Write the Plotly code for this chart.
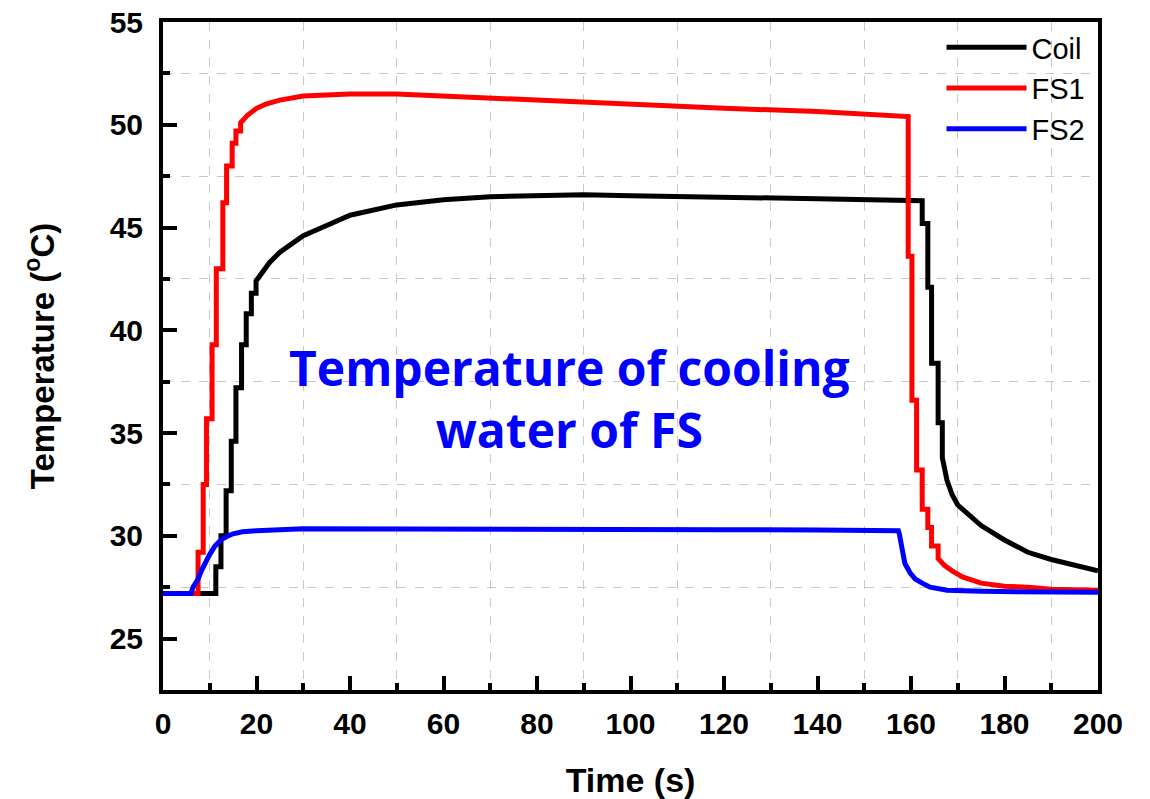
import plotly.graph_objects as go

# ---- data ----
coil_t = [0, 11.3, 11.3, 12.4, 12.4, 13.5, 13.5, 14.6, 14.6, 15.6, 15.6, 16.8, 16.8, 17.8, 17.8,
          18.9, 18.9, 19.9, 19.9, 21.4, 22.8, 25, 30, 35, 40, 50, 60, 70, 80, 90, 100, 120, 140,
          162.4, 162.4, 163.6, 163.6, 164.4, 164.4, 165.8, 165.8, 166.7, 166.7, 167.7, 168.8,
          170, 172, 175, 180, 185, 190, 195, 200]
coil_T = [27.2, 27.2, 28.5, 28.5, 30.0, 30.0, 32.2, 32.2, 34.6, 34.6, 37.2, 37.2, 39.3, 39.3, 40.8,
          40.8, 41.8, 41.8, 42.4, 42.9, 43.3, 43.8, 44.6, 45.1, 45.6, 46.1, 46.35, 46.5, 46.55, 46.6,
          46.55, 46.5, 46.4, 46.3, 45.2, 45.2, 42.1, 42.1, 38.4, 38.4, 35.5, 35.5, 33.8, 32.7, 32.0,
          31.5, 31.1, 30.5, 29.8, 29.2, 28.85, 28.55, 28.3]

fs1_t = [0, 7.5, 7.5, 8.6, 8.6, 9.3, 9.3, 10.5, 10.5, 11.4, 11.4, 12.8, 12.8, 13.6, 13.6, 14.8,
         14.8, 15.6, 15.6, 16.6, 16.6, 18, 20, 22, 25, 30, 35, 40, 50, 60, 70, 80, 90, 100, 120,
         140, 158.5, 159.4, 159.4, 160.2, 160.2, 161.2, 161.2, 162.4, 162.4, 163.6, 163.6, 164.4,
         164.4, 165.8, 165.8, 167.2, 168.8, 171, 175, 180, 185, 190, 200]
fs1_T = [27.2, 27.2, 29.2, 29.2, 32.5, 32.5, 35.7, 35.7, 39.3, 39.3, 43.0, 43.0, 46.2, 46.2, 48.0,
         48.0, 49.1, 49.1, 49.7, 49.7, 50.1, 50.45, 50.8, 51.0, 51.2, 51.4, 51.45, 51.5, 51.5, 51.4,
         51.3, 51.15, 51.1, 51.0, 50.8, 50.65, 50.45, 50.4, 43.6, 43.6, 36.6, 36.6, 33.2, 33.2,
         31.3, 31.3, 30.4, 30.4, 29.5, 29.5, 28.9, 28.55, 28.3, 28.0, 27.7, 27.55, 27.5, 27.4, 27.35]

fs2_t = [0, 6.0, 6.4, 7.5, 8.2, 9.0, 10, 11.1, 12.4, 13.9, 15, 17, 20, 30, 40, 60, 80, 100, 120,
         140, 157.3, 157.5, 158.1, 158.7, 159.8, 160.9, 162.4, 164.1, 167.7, 175, 200]
fs2_T = [27.2, 27.2, 27.5, 27.9, 28.3, 28.7, 29.1, 29.5, 29.8, 30.0, 30.1, 30.2, 30.25, 30.35,
         30.35, 30.35, 30.3, 30.3, 30.3, 30.28, 30.25, 30.1, 29.2, 28.65, 28.2, 27.9, 27.7, 27.5,
         27.35, 27.3, 27.25]

series_names = ["Coil", "FS1", "FS2"]
series_colors = ["#000000", "#ff0000", "#0000ff"]

x_ticks = [0, 20, 40, 60, 80, 100, 120, 140, 160, 180, 200]
x_minor = [10, 30, 50, 70, 90, 110, 130, 150, 170, 190]
y_ticks = [25, 30, 35, 40, 45, 50, 55]
y_minor = [22.5, 27.5, 32.5, 37.5, 42.5, 47.5, 52.5]

FONT = "Arial, Liberation Sans"

fig = go.Figure()
for name, color, t, T in zip(series_names, series_colors,
                             [coil_t, fs1_t, fs2_t], [coil_T, fs1_T, fs2_T]):
    fig.add_trace(go.Scatter(x=t, y=T, mode="lines", name=name, legendgroup=name,
                             line=dict(color=color, width=5)))

axis_common = dict(
    showline=True, linecolor="black", linewidth=4, mirror=True,
    ticks="inside", ticklen=14, tickwidth=4, tickcolor="black",
    showgrid=False, zeroline=False, automargin=False,
    tickfont=dict(family=FONT, size=30, color="black", weight="bold"),
)
minor_common = dict(ticks="inside", ticklen=7, tickwidth=4, tickcolor="black",
                    showgrid=True, gridcolor="#c8c8c8", griddash="dash", gridwidth=1)

fig.update_xaxes(
    range=[0, 200], tickvals=x_ticks, ticklabelstandoff=4,
    minor=dict(tickvals=x_minor, **minor_common),
    title=dict(text="<b>Time (s)</b>", font=dict(family=FONT, size=34, color="black"),
               standoff=30),
    **axis_common,
)
fig.update_yaxes(
    range=[22.5, 55], tickvals=y_ticks, ticklabelstandoff=10,
    minor=dict(tickvals=y_minor, **minor_common),
    title=dict(text="<b>Temperature (<sup>o</sup>C)</b>",
               font=dict(family=FONT, size=33, color="black"), standoff=46),
    **axis_common,
)

fig.add_annotation(
    x=87, y=36.7, xref="x", yref="y",
    text="<b>Temperature of cooling<br>water of FS</b>", showarrow=False,
    font=dict(family="Open Sans, Noto Sans", size=48, color="#0000ff"),
    align="center",
)

fig.update_layout(
    width=1150, height=799,
    margin=dict(l=163, r=52, t=22, b=109, autoexpand=False),
    paper_bgcolor="white", plot_bgcolor="white",
    showlegend=True,
    legend=dict(x=0.992, y=1.0, xanchor="right", yanchor="top",
                font=dict(family=FONT, size=29, color="black"),
                bgcolor="rgba(0,0,0,0)", itemwidth=80, tracegroupgap=0),
)

fig.write_html("out.html")
